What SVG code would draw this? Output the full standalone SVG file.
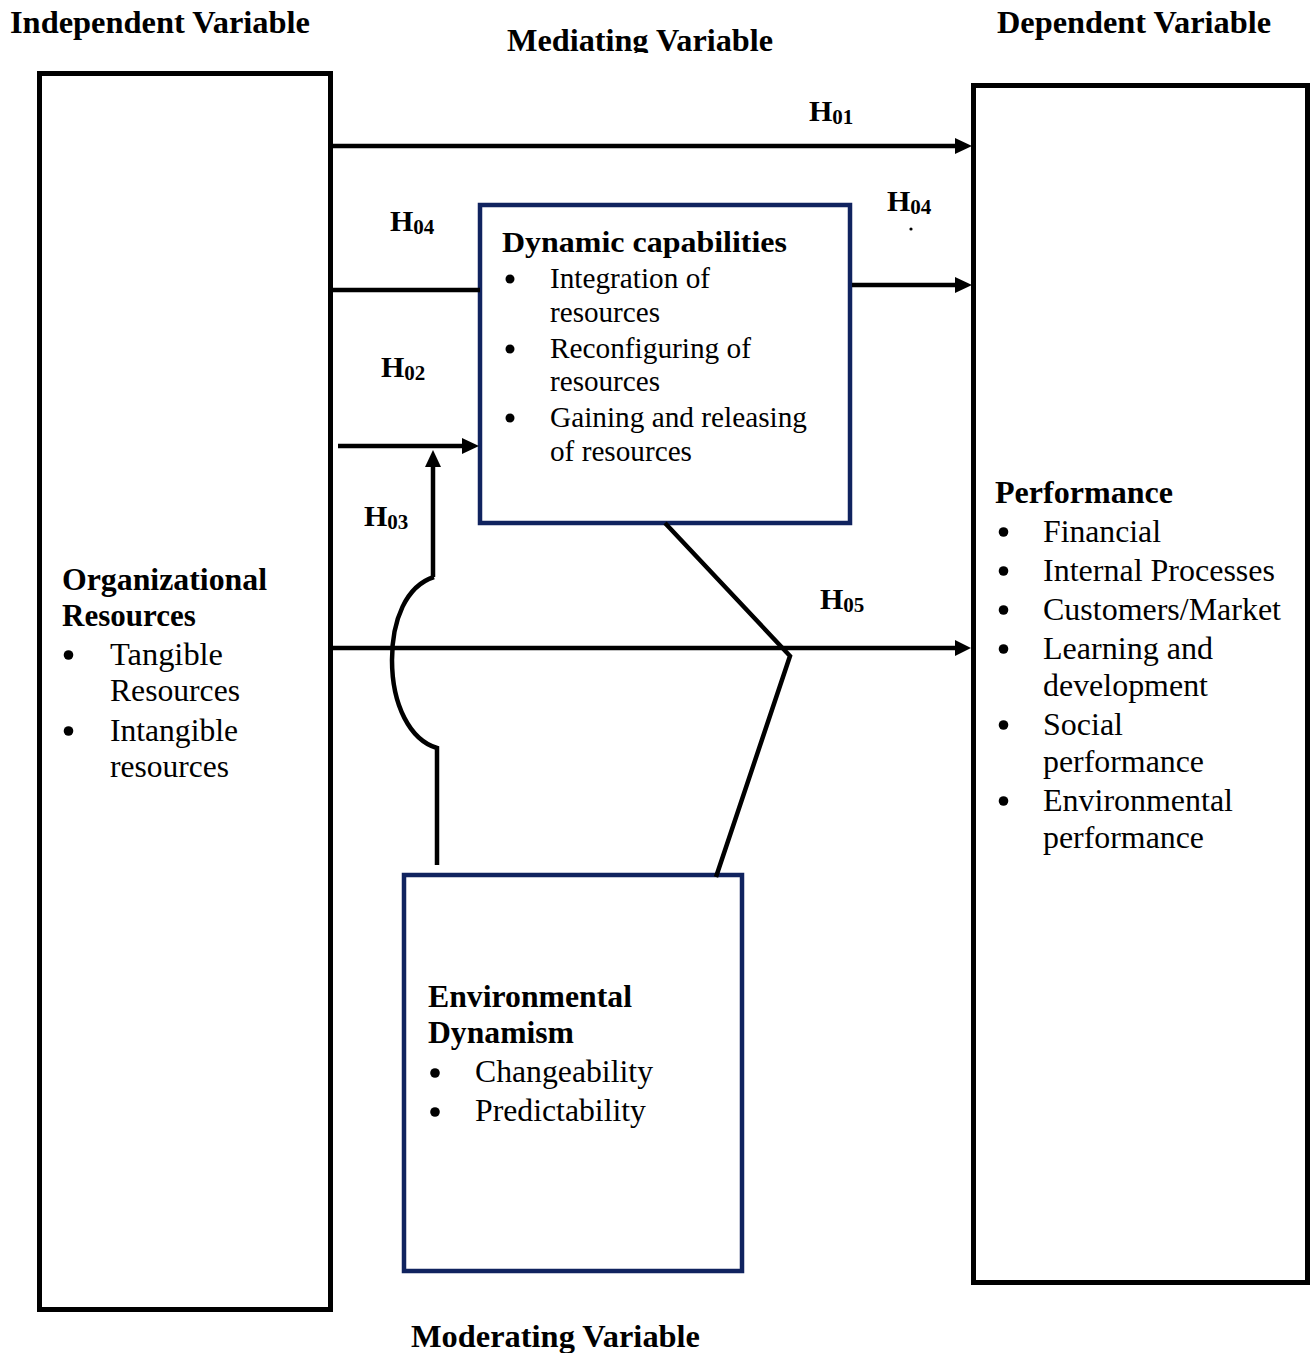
<svg xmlns="http://www.w3.org/2000/svg" width="1313" height="1353" viewBox="0 0 1313 1353">
<style>
  text { font-family: "Liberation Serif", "Times New Roman", serif; fill: #000; }
  .hdr { font-size: 32px; font-weight: bold; }
  .ttl { font-weight: bold; }
  .box { fill: #fff; stroke: #000; stroke-width: 5; }
  .nbox { fill: #fff; stroke: #10235f; stroke-width: 4.5; }
  .con { fill: none; stroke: #000; stroke-width: 4.5; }
  .hl { font-size: 30px; font-weight: bold; }
  .sub { font-size: 21px; font-weight: bold; }
  .bul { fill: #000; }
</style>
<defs>
  <marker id="arr" markerUnits="userSpaceOnUse" markerWidth="18" markerHeight="16" refX="6" refY="8" orient="auto">
    <path d="M0,0 L17,8 L0,16 z" fill="#000"/>
  </marker>
  <clipPath id="clipMed"><rect x="0" y="0" width="1313" height="53"/></clipPath>
</defs>
<rect width="1313" height="1353" fill="#fff"/>

<g id="headers">
  <text class="hdr" x="10" y="33" textLength="300" lengthAdjust="spacingAndGlyphs">Independent Variable</text>
  <text class="hdr" x="507" y="51" textLength="266" lengthAdjust="spacingAndGlyphs" clip-path="url(#clipMed)">Mediating Variable</text>
  <text class="hdr" x="997" y="33" textLength="274" lengthAdjust="spacingAndGlyphs">Dependent Variable</text>
  <text class="hdr" x="411" y="1347" textLength="289" lengthAdjust="spacingAndGlyphs">Moderating Variable</text>
</g>

<g id="node-org-resources">
  <rect class="box" x="39.5" y="73.5" width="291" height="1236"/>
  <text font-size="31" x="62" y="590" class="ttl" textLength="205" lengthAdjust="spacingAndGlyphs">Organizational</text>
  <text font-size="31" x="62" y="626" class="ttl">Resources</text>
  <circle class="bul" cx="68.5" cy="655" r="4.8"/>
  <text font-size="31" x="110" y="665" textLength="113" lengthAdjust="spacingAndGlyphs">Tangible</text>
  <text font-size="31" x="110" y="701" textLength="130" lengthAdjust="spacingAndGlyphs">Resources</text>
  <circle class="bul" cx="68.5" cy="731" r="4.8"/>
  <text font-size="31" x="110" y="741" textLength="128" lengthAdjust="spacingAndGlyphs">Intangible</text>
  <text font-size="31" x="110" y="777" textLength="119" lengthAdjust="spacingAndGlyphs">resources</text>
</g>

<g id="node-performance">
  <rect class="box" x="973.5" y="85.5" width="334" height="1197"/>
  <text font-size="31" x="995" y="503" class="ttl" textLength="178" lengthAdjust="spacingAndGlyphs">Performance</text>
  <circle class="bul" cx="1003.5" cy="532" r="4.8"/>
  <text font-size="31" x="1043" y="542" textLength="118" lengthAdjust="spacingAndGlyphs">Financial</text>
  <circle class="bul" cx="1003.5" cy="571" r="4.8"/>
  <text font-size="31" x="1043" y="581" textLength="232" lengthAdjust="spacingAndGlyphs">Internal Processes</text>
  <circle class="bul" cx="1003.5" cy="610" r="4.8"/>
  <text font-size="31" x="1043" y="620" textLength="238" lengthAdjust="spacingAndGlyphs">Customers/Market</text>
  <circle class="bul" cx="1003.5" cy="649" r="4.8"/>
  <text font-size="31" x="1043" y="659" textLength="170" lengthAdjust="spacingAndGlyphs">Learning and</text>
  <text font-size="31" x="1043" y="696" textLength="165" lengthAdjust="spacingAndGlyphs">development</text>
  <circle class="bul" cx="1003.5" cy="725" r="4.8"/>
  <text font-size="31" x="1043" y="735" textLength="80" lengthAdjust="spacingAndGlyphs">Social</text>
  <text font-size="31" x="1043" y="772" textLength="161" lengthAdjust="spacingAndGlyphs">performance</text>
  <circle class="bul" cx="1003.5" cy="801" r="4.8"/>
  <text font-size="31" x="1043" y="811" textLength="190" lengthAdjust="spacingAndGlyphs">Environmental</text>
  <text font-size="31" x="1043" y="848" textLength="161" lengthAdjust="spacingAndGlyphs">performance</text>
</g>

<g id="node-dynamic-capabilities">
  <rect class="nbox" x="480" y="205" width="370" height="318"/>
  <text font-size="30" x="502" y="252" class="ttl" textLength="285" lengthAdjust="spacingAndGlyphs">Dynamic capabilities</text>
  <circle class="bul" cx="510" cy="279" r="4.5"/>
  <text font-size="29" x="550" y="288" textLength="160" lengthAdjust="spacingAndGlyphs">Integration of</text>
  <text font-size="29" x="550" y="322" textLength="110" lengthAdjust="spacingAndGlyphs">resources</text>
  <circle class="bul" cx="510" cy="349" r="4.5"/>
  <text font-size="29" x="550" y="358" textLength="201" lengthAdjust="spacingAndGlyphs">Reconfiguring of</text>
  <text font-size="29" x="550" y="391" textLength="110" lengthAdjust="spacingAndGlyphs">resources</text>
  <circle class="bul" cx="510" cy="418" r="4.5"/>
  <text font-size="29" x="550" y="427" textLength="257" lengthAdjust="spacingAndGlyphs">Gaining and releasing</text>
  <text font-size="29" x="550" y="461" textLength="142" lengthAdjust="spacingAndGlyphs">of resources</text>
</g>

<g id="node-environmental-dynamism">
  <rect class="nbox" x="404" y="875" width="338" height="396"/>
  <text font-size="31" x="428" y="1007" class="ttl" textLength="204" lengthAdjust="spacingAndGlyphs">Environmental</text>
  <text font-size="31" x="428" y="1043" class="ttl" textLength="146" lengthAdjust="spacingAndGlyphs">Dynamism</text>
  <circle class="bul" cx="435" cy="1073" r="4.8"/>
  <text font-size="31" x="475" y="1082" textLength="178" lengthAdjust="spacingAndGlyphs">Changeability</text>
  <circle class="bul" cx="435" cy="1112" r="4.8"/>
  <text font-size="31" x="475" y="1121" textLength="171" lengthAdjust="spacingAndGlyphs">Predictability</text>
</g>

<g id="connectors">
  <line class="con" x1="333" y1="146" x2="961" y2="146" marker-end="url(#arr)"/>
  <line class="con" x1="333" y1="290" x2="480" y2="290"/>
  <line class="con" x1="852" y1="285" x2="961" y2="285" marker-end="url(#arr)"/>
  <line class="con" x1="338" y1="446" x2="468" y2="446" marker-end="url(#arr)"/>
  <line class="con" x1="333" y1="648" x2="961" y2="648" stroke-width="4"/>
  <path d="M955,640 L971,648 L955,656 z" fill="#000"/>
  <line class="con" x1="433" y1="577" x2="433" y2="461" marker-end="url(#arr)"/>
  <path class="con" d="M434,577 C406,586 392,620 392,660 C392,705 410,740 437,748 L437,865"/>
  <polyline class="con" points="665,523 790,656 716,877"/>
</g>

<g id="labels">
  <text x="809" y="121"><tspan class="hl">H</tspan><tspan class="sub" dy="3">01</tspan></text>
  <text x="390" y="231"><tspan class="hl">H</tspan><tspan class="sub" dy="3">04</tspan></text>
  <text x="887" y="211"><tspan class="hl">H</tspan><tspan class="sub" dy="3">04</tspan></text>
  <circle cx="911" cy="229" r="1.6" fill="#000"/>
  <text x="381" y="377"><tspan class="hl">H</tspan><tspan class="sub" dy="3">02</tspan></text>
  <text x="364" y="526"><tspan class="hl">H</tspan><tspan class="sub" dy="3">03</tspan></text>
  <text x="820" y="609"><tspan class="hl" font-size="27">H</tspan><tspan class="sub" dy="3" font-size="19">05</tspan></text>
</g>
</svg>
